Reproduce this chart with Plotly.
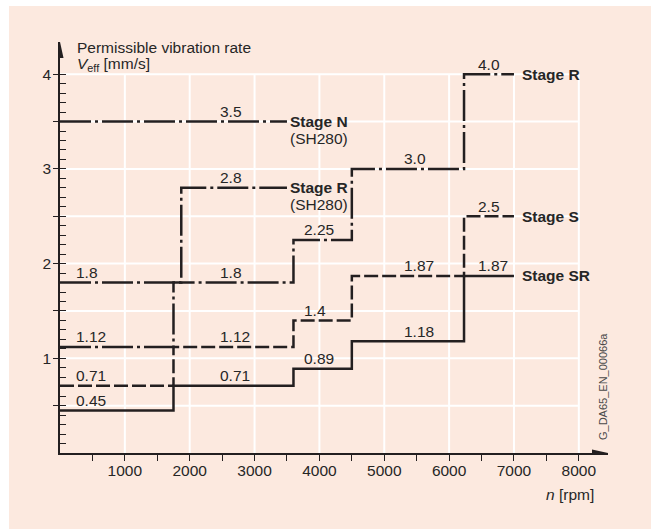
import plotly.graph_objects as go

# ---------------------------------------------------------------- data
# Permissible vibration rate V_eff [mm/s] per speed band n [rpm]
speed_steps = [0, 1750, 3600, 4500, 6230]      # start of each speed band
speed_end = 7000
stage_sr = [0.45, 0.71, 0.89, 1.18, 1.87]
stage_s = [0.71, 1.12, 1.4, 1.87, 2.5]
stage_r = [1.12, 1.8, 2.25, 3.0, 4.0]

# SH280 variants
sh280_r_steps = [0, 1870]
sh280_r = [1.8, 2.8]
sh280_n_steps = [0]
sh280_n = [3.5]
sh280_end = 3500

x_tick_labels = [1000, 2000, 3000, 4000, 5000, 6000, 7000, 8000]
y_tick_labels = [1, 2, 3, 4]

# -------------------------------------------------------------- styling
W, H = 651, 530
ML, MR, MT, MB = 60, 43, 42, 77
PW, PH = W - ML - MR, H - MT - MB
X_MAX = 8450
Y_MAX = 4.34
X_GRID_END = 8000
Y_GRID_END = 4.0

INK = "#231f20"
TEXT = "#262626"
PEACH = "#fce9df"
FONT = "Liberation Sans, Arial, Helvetica, sans-serif"
FS = 15.5

DASH = {
    "solid": "solid",
    "dash": "14px,4px",
    "dashdot": "31px,4px,3px,4px",
}

# columns (rpm) where the value labels start
LABEL_COLUMNS = [250, 2470, 3770, 5300, 6440]

series = [
    # values, band starts, band end, dash, name, sub-name, name offset px
    (stage_r, speed_steps, speed_end, "dashdot", "Stage R", None, 6),
    (sh280_r, sh280_r_steps, sh280_end, "dashdot", "Stage R", "(SH280)", 1),
    (sh280_n, sh280_n_steps, sh280_end, "dashdot", "Stage N", "(SH280)", 1),
    (stage_s, speed_steps, speed_end, "dash", "Stage S", None, 6),
    (stage_sr, speed_steps, speed_end, "solid", "Stage SR", None, 6),
]


def fmt(v):
    s = f"{v:.2f}".rstrip("0")
    return s + "0" if s.endswith(".") else s


fig = go.Figure()
annotations = []

for vals, steps, end, dash, name, sub, off in series:
    xs = list(steps) + [end]
    ys = list(vals) + [vals[-1]]
    fig.add_trace(go.Scatter(
        x=xs, y=ys, mode="lines",
        line=dict(shape="hv", color=INK, width=2.5, dash=DASH[dash]),
        hoverinfo="skip", showlegend=False,
    ))
    # value labels above each band
    bounds = list(steps) + [end]
    for i, v in enumerate(vals):
        a, b = bounds[i], bounds[i + 1]
        cols = [c for c in LABEL_COLUMNS if a <= c < b]
        annotations.append(dict(
            x=cols[-1], y=v, xref="x", yref="y", text=fmt(v),
            showarrow=False, xanchor="left", yanchor="middle",
            xshift=-2, yshift=10,
            font=dict(family=FONT, size=FS, color=TEXT),
        ))
    annotations.append(dict(
        x=end, y=vals[-1], xref="x", yref="y", text=f"<b>{name}</b>",
        showarrow=False, xanchor="left", yanchor="middle", xshift=off,
        font=dict(family=FONT, size=FS, color=TEXT),
    ))
    if sub:
        annotations.append(dict(
            x=end, y=vals[-1], xref="x", yref="y", text=sub,
            showarrow=False, xanchor="left", yanchor="middle",
            xshift=off, yshift=-17,
            font=dict(family=FONT, size=FS, color=TEXT),
        ))

# dummy trace so the overlaid tick axis is drawn
fig.add_trace(go.Scatter(x=[None], y=[None], yaxis="y2",
                         hoverinfo="skip", showlegend=False))

shapes = []
# white grid
y_grid = [0.5 * k for k in range(1, int(Y_GRID_END * 2) + 1)]
for gy in y_grid:
    shapes.append(dict(type="line", xref="x", yref="y", x0=0, x1=X_GRID_END,
                       y0=gy, y1=gy, line=dict(color="white", width=2),
                       layer="below"))
for gx in x_tick_labels:
    shapes.append(dict(type="line", xref="x", yref="y", x0=gx, x1=gx,
                       y0=0, y1=Y_GRID_END, line=dict(color="white", width=2),
                       layer="below"))

# arrow heads on both axes
shapes.append(dict(type="path", xref="x", yref="y",
                   xsizemode="pixel", ysizemode="pixel",
                   xanchor=X_MAX, yanchor=0,
                   path="M0,0 L-16,3.5 L-16,-3.5 Z",
                   fillcolor=INK, line=dict(width=0)))
shapes.append(dict(type="path", xref="x", yref="y",
                   xsizemode="pixel", ysizemode="pixel",
                   xanchor=0, yanchor=Y_MAX,
                   path="M0,0 L-3.5,-16 L3.5,-16 Z",
                   fillcolor=INK, line=dict(width=0)))


def px_x(p):
    return (p - ML) / PW


def px_y(p):
    return (H - MB - p) / PH


# thin white frame outside the peach panel
shapes.append(dict(type="rect", xref="paper", yref="paper",
                   x0=px_x(0), x1=px_x(9), y0=px_y(H), y1=px_y(0),
                   fillcolor="white", line=dict(width=0), layer="below"))
shapes.append(dict(type="rect", xref="paper", yref="paper",
                   x0=px_x(0), x1=px_x(W), y0=px_y(6), y1=px_y(0),
                   fillcolor="white", line=dict(width=0), layer="below"))
shapes.append(dict(type="rect", xref="paper", yref="paper",
                   x0=px_x(0), x1=px_x(W), y0=px_y(H), y1=px_y(H - 1),
                   fillcolor="white", line=dict(width=0), layer="below"))

# axis titles and drawing id
annotations += [
    dict(x=px_x(75), y=px_y(48), xref="paper", yref="paper",
         text="Permissible vibration rate", showarrow=False,
         xanchor="left", yanchor="middle",
         font=dict(family=FONT, size=FS, color=TEXT)),
    dict(x=px_x(75), y=px_y(64), xref="paper", yref="paper",
         text="<i>V</i><sub>eff</sub> [mm/s]", showarrow=False,
         xanchor="left", yanchor="middle",
         font=dict(family=FONT, size=FS, color=TEXT)),
    dict(x=px_x(596), y=px_y(494), xref="paper", yref="paper",
         text="<i>n</i> [rpm]", showarrow=False,
         xanchor="right", yanchor="middle",
         font=dict(family=FONT, size=FS, color=TEXT)),
    dict(x=px_x(603), y=px_y(387), xref="paper", yref="paper",
         text="G_DA65_EN_00066a", showarrow=False, textangle=-90,
         xanchor="center", yanchor="middle",
         font=dict(family=FONT, size=11, color="#4a4a4a")),
]

x_ticks = [500 * k for k in range(1, 17)]
y_major = [0.5 * k for k in range(1, 9)]
y_minor = [round(0.1 * k, 1) for k in range(1, 41)]

fig.update_layout(
    width=W, height=H,
    margin=dict(l=ML, r=MR, t=MT, b=MB, pad=0),
    paper_bgcolor=PEACH, plot_bgcolor=PEACH,
    showlegend=False,
    xaxis=dict(
        range=[0, X_MAX], showgrid=False, zeroline=False,
        showline=True, linecolor=INK, linewidth=1.5,
        tickvals=x_ticks,
        ticktext=[str(t) if t in x_tick_labels else " " for t in x_ticks],
        ticks="outside", ticklen=6, tickwidth=1, tickcolor=INK,
        tickfont=dict(family=FONT, size=FS, color=TEXT),
        ticklabelstandoff=-3,
        fixedrange=True,
    ),
    yaxis=dict(
        range=[0, Y_MAX], showgrid=False, zeroline=False,
        showline=True, linecolor=INK, linewidth=1.5,
        tickvals=y_major,
        ticktext=[str(int(t)) if t in y_tick_labels else " " for t in y_major],
        ticks="outside", ticklen=5, tickwidth=1, tickcolor=INK,
        tickfont=dict(family=FONT, size=FS, color=TEXT),
        ticklabelstandoff=-1,
        fixedrange=True,
    ),
    yaxis2=dict(
        range=[0, Y_MAX], overlaying="y", side="left", anchor="x",
        showgrid=False, zeroline=False, showline=False,
        tickvals=y_minor, showticklabels=False,
        ticks="inside", ticklen=6, tickwidth=1, tickcolor=INK,
        fixedrange=True,
    ),
    shapes=shapes,
    annotations=annotations,
)

fig.write_html("out.html", config={"displayModeBar": False})
